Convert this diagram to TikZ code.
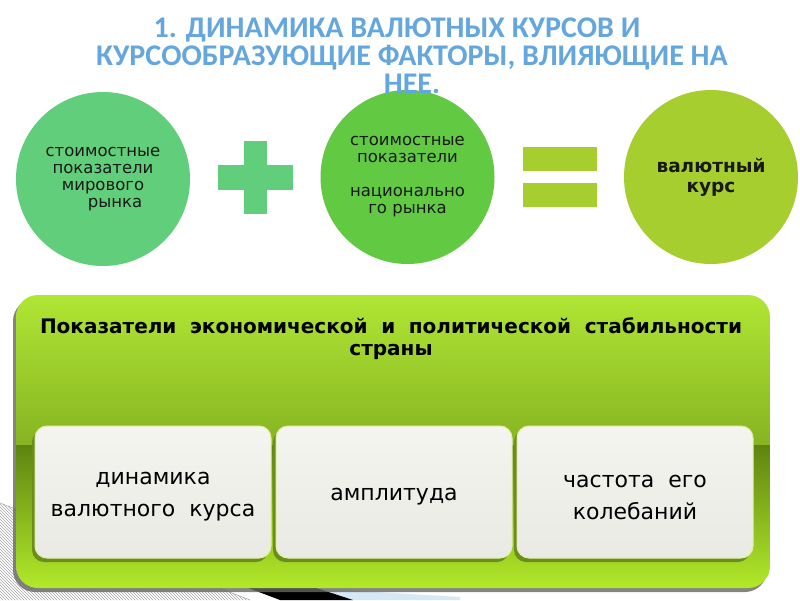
\documentclass[tikz,border=0pt]{standalone}
\usepackage{fontspec}
\usepackage{tikz}
\usetikzlibrary{shadows,patterns,positioning}
\setmainfont{DejaVu Sans}
\newfontfamily\titlefont{Carlito}
\definecolor{titleblue}{RGB}{100,166,222}
\definecolor{mintgreen}{RGB}{96,206,122}
\definecolor{leafgreen}{RGB}{98,201,66}
\definecolor{limegreen}{RGB}{166,206,46}
\definecolor{pnltop}{RGB}{176,230,52}
\definecolor{pnlmid}{RGB}{136,182,26}
\definecolor{pnldark}{RGB}{94,132,16}
\definecolor{pnllow}{RGB}{150,200,30}
\definecolor{pnlbot}{RGB}{178,234,42}
\definecolor{boxshadow}{RGB}{107,142,26}
\definecolor{boxrim}{RGB}{226,238,170}
\definecolor{boxtop}{RGB}{244,244,240}
\definecolor{boxbot}{RGB}{234,234,228}
\definecolor{skyblue}{RGB}{214,232,245}
\tikzset{
  ball/.style={circle,minimum size=174pt,inner sep=0pt,align=center,
    text=black!90,font=\fontsize{16.5}{17}\selectfont},
  bar/.style={rectangle,inner sep=0pt},
  panel/.style={rectangle,rounded corners=22pt,minimum width=754pt,
    minimum height=293pt,inner sep=0pt,
    drop shadow={shadow xshift=-3pt,shadow yshift=-4pt,fill=black!60,opacity=0.8},
    path picture={
      \shade[sharp corners,top color=pnltop,middle color=pnlmid,bottom color=pnldark]
        (path picture bounding box.north west) rectangle
        ([yshift=-150pt]path picture bounding box.north east);
      \shade[sharp corners,top color=pnldark,middle color=pnllow,bottom color=pnlbot]
        ([yshift=-150pt]path picture bounding box.north west) rectangle
        (path picture bounding box.south east);
    }},
  tile/.style={rectangle,rounded corners=12pt,minimum width=236pt,
    minimum height=132pt,inner sep=0pt,draw=boxrim,line width=1pt,
    top color=boxtop,bottom color=boxbot,
    drop shadow={shadow xshift=-3pt,shadow yshift=-4pt,fill=boxshadow,opacity=1}},
  tiletext/.style={align=center,font=\fontsize{22}{32}\selectfont}
}

\begin{document}
\begin{tikzpicture}[x=1pt,y=-1pt]
  \useasboundingbox[fill=white] (0,0) rectangle (800,600);

  \fill[pattern=north west lines,pattern color=gray!70] (0,503)--(250,600)--(0,600)--cycle;
  \draw[gray!80] (0,503)--(250,600);
  \fill[skyblue] (310,588)--(460,597)--(460,600)--(353,600)--cycle;
  \fill[black] (243,586)--(310,586)--(353,600)--(280,600)--cycle;

  \node[ball,fill=mintgreen] (world) at (103,179)
    {стоимостные\\показатели\\мирового\\\hspace*{24pt}рынка};
  \node[bar,fill=mintgreen,minimum width=75pt,minimum height=25pt] (plusH) at (255.5,177) {};
  \node[bar,fill=mintgreen,minimum width=23pt,minimum height=73pt] (plusV) at (255.5,177) {};
  \node[ball,fill=leafgreen] (home) at (407.5,177)
    {стоимостные\\показатели\\[17pt]национально\\го рынка};
  \node[bar,fill=limegreen,minimum width=74pt,minimum height=24pt] (eqTop) at (560,159) {};
  \node[bar,fill=limegreen,minimum width=74pt,minimum height=24pt] (eqBot) at (560,195) {};
  \node[ball,fill=limegreen,font=\bfseries\fontsize{18.5}{20}\selectfont] (rate) at (711,177)
    {валютный\\курс};

  \node[font=\titlefont\bfseries\fontsize{30}{28}\selectfont,text=titleblue,align=center]
    (title) at (412,56) {1. ДИНАМИКА ВАЛЮТНЫХ КУРСОВ И\hspace*{30pt}\\КУРСООБРАЗУЮЩИЕ ФАКТОРЫ, ВЛИЯЮЩИЕ НА\\НЕЕ.};

  \node[panel] (stab) at (393,441.5) {};
  \node[font=\bfseries\fontsize{20}{22}\selectfont,align=center] (head) at (391,339)
    {\makebox[702pt][s]{Показатели экономической и политической стабильности}\\страны};

  \node[tile] (dyn) at (153,492) {};
  \node[tile,right=4pt of dyn] (amp) {};
  \node[tile,right=4pt of amp] (freq) {};
  \node[tiletext] (dynT) at ([yshift=-5pt]dyn.center) {динамика\\валютного\ \ курса};
  \node[tiletext] (ampT) at ([yshift=-5pt]amp.center) {амплитуда};
  \node[tiletext] (freqT) at ([yshift=-5pt]freq.center) {частота\ \ его\\колебаний};
\end{tikzpicture}
\end{document}
